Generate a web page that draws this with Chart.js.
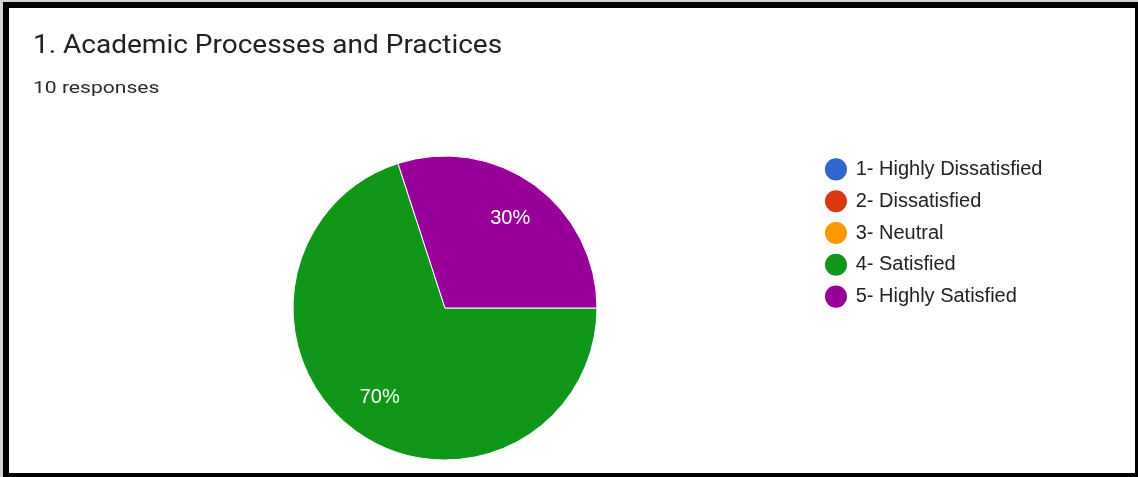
<!DOCTYPE html>
<html>
<head>
<meta charset="utf-8">
<script src="https://cdn.jsdelivr.net/npm/chart.js@4/dist/chart.umd.min.js"></script>
<style>
    body { margin: 0; background: #d4d4d4; width: 1138px; height: 477px; overflow: hidden; }
    .frame {
        position: absolute; left: 3px; top: 2px; width: 1135px; height: 475px;
        box-sizing: border-box; background: #fff;
        border-style: solid; border-color: #000;
        border-width: 6px 3px 4px 6px;
    }
    .title {
        position: absolute; left: 24px; top: 23.6px;
        font: 25px Roboto, sans-serif; line-height: 25px; color: #212121; white-space: nowrap;
        transform: scaleX(1.12); transform-origin: left top;
    }
    .subtitle {
        position: absolute; left: 24px; top: 70.7px;
        font: 17px Roboto, sans-serif; line-height: 17px; color: #2a2a2a; white-space: nowrap;
        transform: scaleX(1.24); transform-origin: left top;
    }
    #pieChart { position: absolute; left: 0; top: 0; }
</style>
</head>
<body>
<div class="frame">
    <canvas id="pieChart" width="1126" height="465"></canvas>
    <div class="title">1. Academic Processes and Practices</div>
    <div class="subtitle">10 responses</div>
</div>
<script>
const categories = ['1- Highly Dissatisfied', '2- Dissatisfied', '3- Neutral', '4- Satisfied', '5- Highly Satisfied'];
const responses = [0, 0, 0, 7, 3];
const sliceColors = ['#3366cc', '#dc3912', '#ff9900', '#109618', '#990099'];

// percent labels inside the slices
const sliceLabels = {
    id: 'sliceLabels',
    afterDatasetsDraw(chart) {
        const ctx = chart.ctx;
        const values = chart.data.datasets[0].data;
        const total = values.reduce((a, b) => a + b, 0);
        chart.getDatasetMeta(0).data.forEach((arc, i) => {
            if (!values[i]) return;
            const mid = (arc.startAngle + arc.endAngle) / 2;
            const r = arc.outerRadius * 0.73;
            ctx.save();
            ctx.fillStyle = '#fff';
            ctx.font = '20px "Liberation Sans", Arial, sans-serif';
            ctx.textAlign = 'center';
            ctx.textBaseline = 'middle';
            ctx.fillText(Math.round(values[i] / total * 100) + '%', arc.x + Math.cos(mid) * r, arc.y + Math.sin(mid) * r);
            ctx.restore();
        });
    }
};

new Chart(document.getElementById('pieChart').getContext('2d'), {
    type: 'pie',
    data: {
        labels: categories,
        datasets: [{
            data: responses,
            backgroundColor: sliceColors,
            borderColor: '#fff',
            borderWidth: 1,
            radius: 152
        }]
    },
    options: {
        responsive: false,
        animation: false,
        devicePixelRatio: 1,
        rotation: 90,
        radius: 152,
        layout: { padding: { top: 139.6, bottom: 4.6, left: 66.5, right: 82.6 } },
        plugins: {
            tooltip: { enabled: false },
            legend: {
                position: 'right',
                align: 'start',
                labels: {
                    usePointStyle: true,
                    pointStyle: 'circle',
                    boxWidth: 19.4,
                    boxHeight: 15.6,
                    padding: 11.8,
                    color: '#222',
                    font: { family: '"Liberation Sans", Arial, sans-serif', size: 20 },
                    generateLabels(chart) {
                        const items = Chart.overrides.doughnut.plugins.legend.labels.generateLabels(chart);
                        return items.map(item => ({ ...item, lineWidth: 0, strokeStyle: item.fillStyle }));
                    }
                }
            }
        }
    },
    plugins: [sliceLabels]
});
</script>
</body>
</html>
